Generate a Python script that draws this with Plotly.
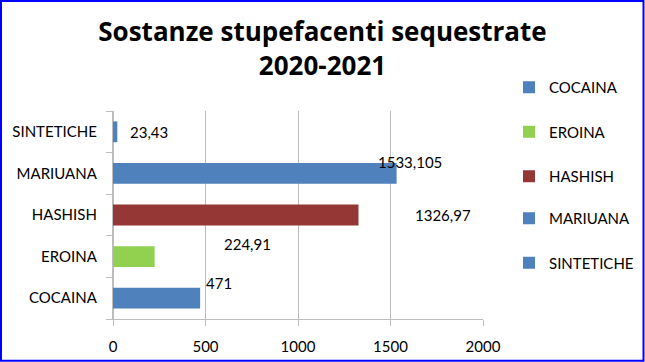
import plotly.graph_objects as go

categories = ["COCAINA", "EROINA", "HASHISH", "MARIUANA", "SINTETICHE"]
values = [471, 224.91, 1326.97, 1533.105, 23.43]
colors = ["#4F81BD", "#92D050", "#953735", "#4F81BD", "#4F81BD"]
x_ticks = [0, 500, 1000, 1500, 2000]
title_lines = ["Sostanze stupefacenti sequestrate", "2020-2021"]

# label offsets in pixels (style of the displaced Excel data labels)
label_shift = [(4, 15), (67, 13), (55, 0), (-21, 11), (11, 0)]
# legend split in two blocks (3 + 2 entries) to keep the wide spacing
legend_of = ["legend", "legend", "legend", "legend2", "legend2"]

W, H = 645, 362
L, R, T, B = 113, 162, 111, 43
PW, PH = W - L - R, H - T - B

def px(x):
    return (x - L) / PW

def py(y):
    return (H - B - y) / PH

FONT = "Lato"
fig = go.Figure()
for cat, val, col, lg in zip(categories, values, colors, legend_of):
    fig.add_trace(go.Bar(
        y=[cat], x=[val], orientation="h", name=cat, width=0.5,
        marker=dict(color=col, line=dict(width=0)),
        legendgroup=cat, legend=lg,
    ))

def fmt(v):
    s = str(int(v)) if v == int(v) else repr(v)
    return s.replace(".", ",")

annotations = []
for cat, val, (dx, dy) in zip(categories, values, label_shift):
    annotations.append(dict(
        x=val, y=cat, xref="x", yref="y", text=fmt(val), showarrow=False,
        xanchor="left", yanchor="middle", xshift=dx, yshift=dy,
        font=dict(family=FONT, size=15, color="#000000"),
    ))

legend_style = dict(
    xanchor="left", yanchor="top",
    traceorder="grouped", tracegroupgap=22,
    font=dict(family=FONT, size=15),
    bgcolor="rgba(0,0,0,0)",
)

GRID = "#BDBDBD"
fig.update_layout(
    width=W, height=H,
    margin=dict(l=L, r=R, t=T, b=B, autoexpand=False),
    paper_bgcolor="white", plot_bgcolor="white",
    barmode="overlay",
    font=dict(family=FONT, size=15, color="#000000"),
    title=dict(
        text="<b>" + "<br>".join(title_lines) + "</b>",
        x=0.5, xref="container", xanchor="center",
        y=1 - 41 / H, yref="container", yanchor="top",
        font=dict(family="Open Sans", size=26, color="#000000"),
    ),
    xaxis=dict(
        range=[0, 2000], tickvals=x_ticks, showgrid=True,
        gridcolor=GRID, gridwidth=1.3, zeroline=True, zerolinecolor=GRID, zerolinewidth=1.3,
        showline=True, linecolor=GRID, linewidth=1.3,
        ticks="outside", ticklen=6, tickcolor=GRID, tickwidth=1.3,
        ticklabelstandoff=8, fixedrange=True,
        tickfont=dict(family=FONT, size=15),
    ),
    yaxis=dict(
        type="category", categoryorder="array", categoryarray=categories,
        range=[-0.5, 4.5], fixedrange=True,
        showline=True, linecolor=GRID, linewidth=1.3,
        ticks="outside", ticklen=6, tickcolor=GRID, tickwidth=1.3, tickson="boundaries",
        showgrid=False, ticklabelstandoff=12,
        tickfont=dict(family=FONT, size=15),
    ),
    legend=dict(x=px(509), y=py(71), **legend_style),
    legend2=dict(x=px(509), y=py(202), **legend_style),
    annotations=annotations,
    shapes=[dict(
        type="rect", xref="paper", yref="paper",
        x0=px(1), x1=px(643.5), y0=py(360.8), y1=py(1),
        line=dict(color="#0000FF", width=2), fillcolor="rgba(0,0,0,0)",
    )],
    showlegend=True,
)

fig.write_html("out.html", config={"displayModeBar": False},
               post_script="document.body.style.margin='0';")
